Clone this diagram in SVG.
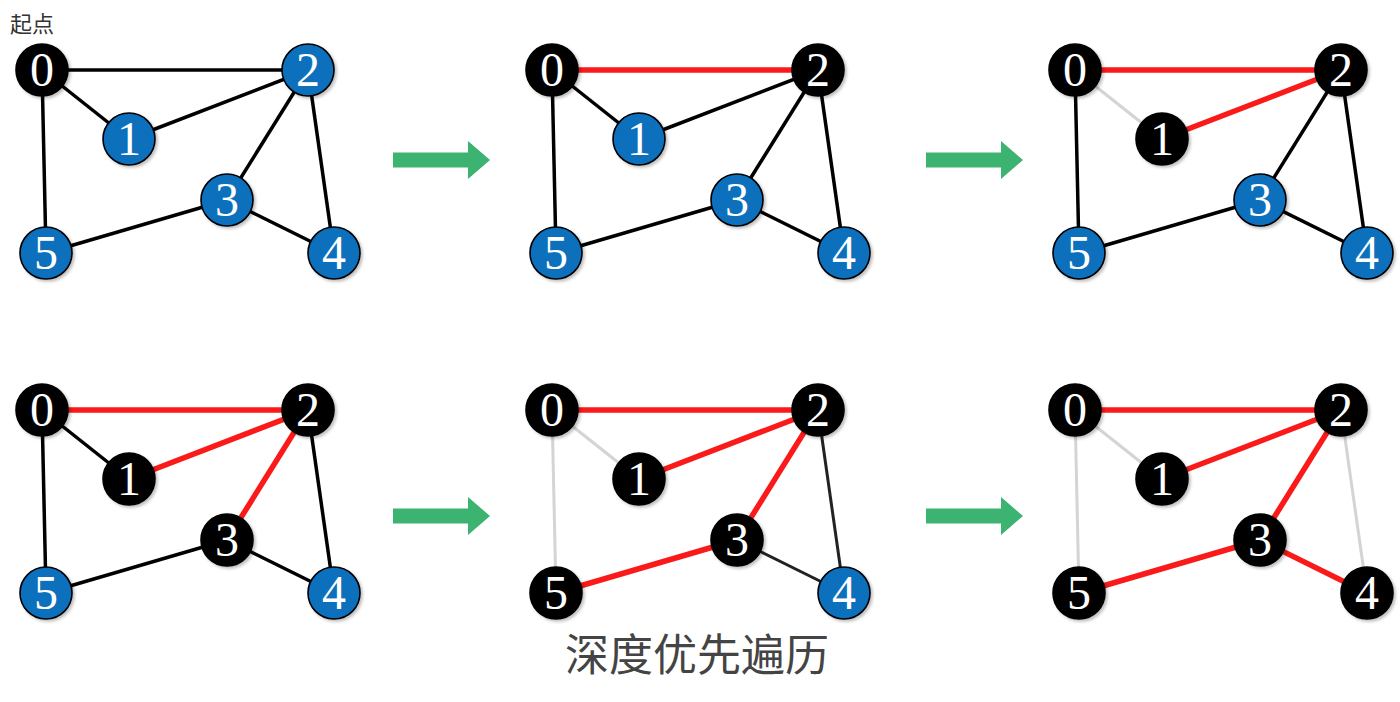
<svg xmlns="http://www.w3.org/2000/svg" width="1400" height="702" viewBox="0 0 1400 702">
<style>
.e{fill:none;stroke-linecap:butt}
.k{stroke:#000;stroke-width:3.5}
.r{stroke:#fa1a1a;stroke-width:5.5}
.g{stroke:#d4d4d4;stroke-width:3}
.nb circle{fill:#0b6fbd;stroke:#000;stroke-width:1.6}
.nk circle{fill:#000;stroke:#000;stroke-width:1.6}
.n circle{filter:url(#sh)}
.n text{fill:#fff;text-anchor:middle}
.arrow{fill:#3cb371}
</style>
<defs>
<filter id="sh" x="-30%" y="-30%" width="170%" height="170%">
<feDropShadow dx="2" dy="2" stdDeviation="1.5" flood-color="#000" flood-opacity="0.25"/>
</filter>
<polygon id="arr" points="0,-7.5 75,-7.5 75,-19 97,0 75,19 75,7.5 0,7.5"/>
</defs>

<text x="10" y="32" font-family="Noto Sans CJK SC, sans-serif" font-size="22" fill="#333">起点</text>

<!-- Graph 1 -->
<g id="graph1" transform="translate(42,70)" font-family="Liberation Serif, serif" font-size="48">
<g id="g1-edges">
<line class="e k" x1="0" y1="0" x2="266" y2="0"/>
<line class="e k" x1="0" y1="0" x2="87" y2="69"/>
<line class="e k" x1="87" y1="69" x2="266" y2="0"/>
<line class="e k" x1="0" y1="0" x2="4" y2="183"/>
<line class="e k" x1="266" y1="0" x2="185" y2="130"/>
<line class="e k" x1="266" y1="0" x2="292" y2="183"/>
<line class="e k" x1="185" y1="130" x2="4" y2="183"/>
<line class="e k" x1="185" y1="130" x2="292" y2="183"/>
</g>
<g id="g1-n0" class="n nk"><circle cx="0" cy="0" r="26"/><text x="0" y="16">0</text></g>
<g id="g1-n1" class="n nb"><circle cx="87" cy="69" r="26"/><text x="87" y="85">1</text></g>
<g id="g1-n2" class="n nb"><circle cx="266" cy="0" r="26"/><text x="266" y="16">2</text></g>
<g id="g1-n3" class="n nb"><circle cx="185" cy="130" r="26"/><text x="185" y="146">3</text></g>
<g id="g1-n4" class="n nb"><circle cx="292" cy="183" r="26"/><text x="292" y="199">4</text></g>
<g id="g1-n5" class="n nb"><circle cx="4" cy="183" r="26"/><text x="4" y="199">5</text></g>
</g>

<!-- Graph 2 -->
<g id="graph2" transform="translate(552,70)" font-family="Liberation Serif, serif" font-size="48">
<g id="g2-edges">
<line class="e r" x1="0" y1="0" x2="266" y2="0"/>
<line class="e k" x1="0" y1="0" x2="87" y2="69"/>
<line class="e k" x1="87" y1="69" x2="266" y2="0"/>
<line class="e k" x1="0" y1="0" x2="4" y2="183"/>
<line class="e k" x1="266" y1="0" x2="185" y2="130"/>
<line class="e k" x1="266" y1="0" x2="292" y2="183"/>
<line class="e k" x1="185" y1="130" x2="4" y2="183"/>
<line class="e k" x1="185" y1="130" x2="292" y2="183"/>
</g>
<g id="g2-n0" class="n nk"><circle cx="0" cy="0" r="26"/><text x="0" y="16">0</text></g>
<g id="g2-n1" class="n nb"><circle cx="87" cy="69" r="26"/><text x="87" y="85">1</text></g>
<g id="g2-n2" class="n nk"><circle cx="266" cy="0" r="26"/><text x="266" y="16">2</text></g>
<g id="g2-n3" class="n nb"><circle cx="185" cy="130" r="26"/><text x="185" y="146">3</text></g>
<g id="g2-n4" class="n nb"><circle cx="292" cy="183" r="26"/><text x="292" y="199">4</text></g>
<g id="g2-n5" class="n nb"><circle cx="4" cy="183" r="26"/><text x="4" y="199">5</text></g>
</g>

<!-- Graph 3 -->
<g id="graph3" transform="translate(1075,70)" font-family="Liberation Serif, serif" font-size="48">
<g id="g3-edges">
<line class="e r" x1="0" y1="0" x2="266" y2="0"/>
<line class="e g" x1="0" y1="0" x2="87" y2="69"/>
<line class="e r" x1="87" y1="69" x2="266" y2="0"/>
<line class="e k" x1="0" y1="0" x2="4" y2="183"/>
<line class="e k" x1="266" y1="0" x2="185" y2="130"/>
<line class="e k" x1="266" y1="0" x2="292" y2="183"/>
<line class="e k" x1="185" y1="130" x2="4" y2="183"/>
<line class="e k" x1="185" y1="130" x2="292" y2="183"/>
</g>
<g id="g3-n0" class="n nk"><circle cx="0" cy="0" r="26"/><text x="0" y="16">0</text></g>
<g id="g3-n1" class="n nk"><circle cx="87" cy="69" r="26"/><text x="87" y="85">1</text></g>
<g id="g3-n2" class="n nk"><circle cx="266" cy="0" r="26"/><text x="266" y="16">2</text></g>
<g id="g3-n3" class="n nb"><circle cx="185" cy="130" r="26"/><text x="185" y="146">3</text></g>
<g id="g3-n4" class="n nb"><circle cx="292" cy="183" r="26"/><text x="292" y="199">4</text></g>
<g id="g3-n5" class="n nb"><circle cx="4" cy="183" r="26"/><text x="4" y="199">5</text></g>
</g>

<!-- Graph 4 -->
<g id="graph4" transform="translate(42,410)" font-family="Liberation Serif, serif" font-size="48">
<g id="g4-edges">
<line class="e r" x1="0" y1="0" x2="266" y2="0"/>
<line class="e k" x1="0" y1="0" x2="87" y2="69"/>
<line class="e r" x1="87" y1="69" x2="266" y2="0"/>
<line class="e k" x1="0" y1="0" x2="4" y2="183"/>
<line class="e r" x1="266" y1="0" x2="185" y2="130"/>
<line class="e k" x1="266" y1="0" x2="292" y2="183"/>
<line class="e k" x1="185" y1="130" x2="4" y2="183"/>
<line class="e k" x1="185" y1="130" x2="292" y2="183"/>
</g>
<g id="g4-n0" class="n nk"><circle cx="0" cy="0" r="26"/><text x="0" y="16">0</text></g>
<g id="g4-n1" class="n nk"><circle cx="87" cy="69" r="26"/><text x="87" y="85">1</text></g>
<g id="g4-n2" class="n nk"><circle cx="266" cy="0" r="26"/><text x="266" y="16">2</text></g>
<g id="g4-n3" class="n nk"><circle cx="185" cy="130" r="26"/><text x="185" y="146">3</text></g>
<g id="g4-n4" class="n nb"><circle cx="292" cy="183" r="26"/><text x="292" y="199">4</text></g>
<g id="g4-n5" class="n nb"><circle cx="4" cy="183" r="26"/><text x="4" y="199">5</text></g>
</g>

<!-- Graph 5 -->
<g id="graph5" transform="translate(552,410)" font-family="Liberation Serif, serif" font-size="48">
<g id="g5-edges">
<line class="e r" x1="0" y1="0" x2="266" y2="0"/>
<line class="e g" x1="0" y1="0" x2="87" y2="69"/>
<line class="e r" x1="87" y1="69" x2="266" y2="0"/>
<line class="e g" x1="0" y1="0" x2="4" y2="183"/>
<line class="e r" x1="266" y1="0" x2="185" y2="130"/>
<line class="e k" x1="266" y1="0" x2="292" y2="183" style="stroke:#222;stroke-width:3"/>
<line class="e r" x1="185" y1="130" x2="4" y2="183"/>
<line class="e k" x1="185" y1="130" x2="292" y2="183" style="stroke:#222;stroke-width:3"/>
</g>
<g id="g5-n0" class="n nk"><circle cx="0" cy="0" r="26"/><text x="0" y="16">0</text></g>
<g id="g5-n1" class="n nk"><circle cx="87" cy="69" r="26"/><text x="87" y="85">1</text></g>
<g id="g5-n2" class="n nk"><circle cx="266" cy="0" r="26"/><text x="266" y="16">2</text></g>
<g id="g5-n3" class="n nk"><circle cx="185" cy="130" r="26"/><text x="185" y="146">3</text></g>
<g id="g5-n4" class="n nb"><circle cx="292" cy="183" r="26"/><text x="292" y="199">4</text></g>
<g id="g5-n5" class="n nk"><circle cx="4" cy="183" r="26"/><text x="4" y="199">5</text></g>
</g>

<!-- Graph 6 -->
<g id="graph6" transform="translate(1075,410)" font-family="Liberation Serif, serif" font-size="48">
<g id="g6-edges">
<line class="e r" x1="0" y1="0" x2="266" y2="0"/>
<line class="e g" x1="0" y1="0" x2="87" y2="69"/>
<line class="e r" x1="87" y1="69" x2="266" y2="0"/>
<line class="e g" x1="0" y1="0" x2="4" y2="183"/>
<line class="e r" x1="266" y1="0" x2="185" y2="130"/>
<line class="e g" x1="266" y1="0" x2="292" y2="183"/>
<line class="e r" x1="185" y1="130" x2="4" y2="183"/>
<line class="e r" x1="185" y1="130" x2="292" y2="183"/>
</g>
<g id="g6-n0" class="n nk"><circle cx="0" cy="0" r="26"/><text x="0" y="16">0</text></g>
<g id="g6-n1" class="n nk"><circle cx="87" cy="69" r="26"/><text x="87" y="85">1</text></g>
<g id="g6-n2" class="n nk"><circle cx="266" cy="0" r="26"/><text x="266" y="16">2</text></g>
<g id="g6-n3" class="n nk"><circle cx="185" cy="130" r="26"/><text x="185" y="146">3</text></g>
<g id="g6-n4" class="n nk"><circle cx="292" cy="183" r="26"/><text x="292" y="199">4</text></g>
<g id="g6-n5" class="n nk"><circle cx="4" cy="183" r="26"/><text x="4" y="199">5</text></g>
</g>

<!-- Step arrows -->
<g id="step-arrows" class="arrow">
<use href="#arr" x="393" y="160"/>
<use href="#arr" x="926" y="160"/>
<use href="#arr" x="393" y="516"/>
<use href="#arr" x="926" y="516"/>
</g>

<text x="697" y="671" font-family="Noto Sans CJK SC, sans-serif" font-size="44" text-anchor="middle" fill="#444">深度优先遍历</text>
</svg>
